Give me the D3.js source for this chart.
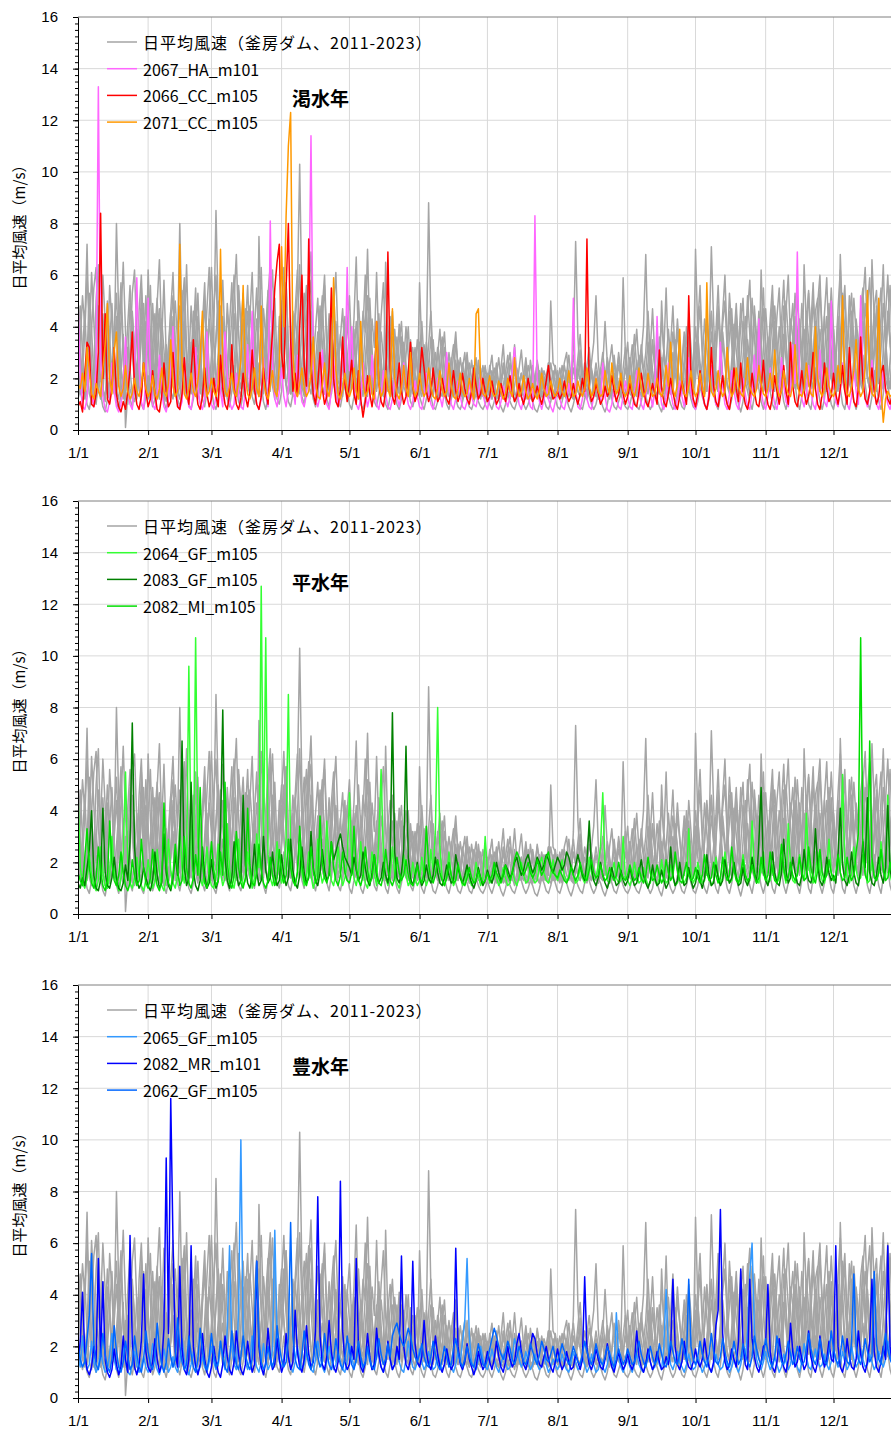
<!DOCTYPE html>
<html>
<head>
<meta charset="utf-8">
<script src="https://cdn.jsdelivr.net/npm/d3@7"></script>
<style>
  body { margin: 0; background: #fff; }
  svg { display: block; }
</style>
</head>
<body>
<svg id="chart" width="891" height="1432"></svg>
<script>
// ---- axis labels ----
const monthLabels = ["1/1","2/1","3/1","4/1","5/1","6/1","7/1","8/1","9/1","10/1","11/1","12/1"];
const monthStarts = [0,31,59,90,120,151,181,212,243,273,304,334];
const yTickValues = [0,2,4,6,8,10,12,14,16];
const yAxisTitle = "日平均風速（m/s）";

// ---- observed daily mean wind speed, Kamafusa Dam (one array per year, shared by all panels) ----
const observedName = "日平均風速（釜房ダム、2011-2023）";
const observedA = [
2.1,3.5,5.2,4.0,7.2,3.1,1.8,1.2,2.6,4.8,3.3,1.5,1.1,2.9,5.6,4.1,2.2,1.4,3.8,5.1,2.7,1.3,1.0,2.4,4.6,3.0,1.6,2.2,5.5,3.7,1.9,
1.4,2.8,4.9,3.2,1.6,1.2,3.4,5.8,2.9,1.5,2.2,4.4,3.0,1.3,1.8,3.9,5.3,2.4,1.2,2.7,4.6,3.1,1.7,1.4,3.6,5.0,2.3,1.5,
2.9,4.7,6.0,3.4,1.8,1.3,2.6,4.5,3.8,2.0,1.5,3.2,5.4,4.1,2.2,1.6,2.9,4.8,3.5,1.9,1.4,7.5,3.6,1.8,2.7,4.3,3.0,1.7,1.2,2.5,4.4,
3.1,5.0,3.6,1.9,1.4,2.8,4.6,6.2,3.3,1.7,1.3,2.5,4.9,5.8,3.0,1.6,2.2,3.9,5.2,2.6,1.5,1.9,3.7,4.8,2.4,1.4,2.0,3.4,4.4,2.1,
1.6,2.9,4.3,6.7,3.2,1.8,1.3,2.4,3.8,2.6,1.5,1.9,3.3,4.5,2.8,1.6,6.5,3.1,1.7,1.3,2.2,3.6,2.5,1.4,1.8,2.9,4.0,2.3,1.5,1.2,2.1,
3.4,2.2,1.6,3.0,8.8,4.2,2.0,1.5,1.8,2.9,3.6,2.1,1.4,1.7,2.6,3.3,2.0,1.3,1.6,2.4,3.0,1.8,1.2,1.5,2.2,2.8,1.7,1.3,1.9,2.5,
1.8,1.4,1.2,1.9,2.6,1.7,1.3,1.5,2.2,2.9,1.9,1.4,1.1,1.6,2.4,3.1,2.0,1.5,1.3,1.8,2.5,1.9,1.4,1.2,1.7,2.3,2.0,1.5,5.0,2.6,2.4,
1.6,1.3,1.8,2.5,2.0,1.5,1.4,3.2,7.3,3.6,2.1,1.6,1.3,1.9,2.7,2.2,1.7,1.4,1.5,2.3,3.0,2.1,1.6,1.2,1.8,2.6,2.0,1.5,1.3,2.4,3.2,
2.2,1.6,1.3,2.8,3.9,2.5,1.7,1.4,2.3,3.4,2.6,1.8,1.5,2.1,3.1,4.2,3.0,5.5,2.7,1.7,1.4,2.5,3.8,2.9,1.9,1.5,2.3,4.4,3.2,2.0,
2.4,3.6,4.8,2.9,1.8,1.5,3.3,7.1,4.2,2.3,1.7,2.6,4.1,5.0,3.1,1.9,1.5,2.8,4.5,3.4,2.0,1.6,3.0,5.2,3.7,2.1,1.7,2.9,4.6,3.3,1.9,
1.5,2.7,4.3,5.6,3.2,1.8,1.4,2.9,4.8,3.5,2.0,1.6,3.4,5.3,3.8,2.2,1.7,6.4,4.0,2.3,1.6,2.8,4.6,5.1,2.9,1.7,1.4,3.1,4.9,3.0,
1.8,2.6,4.4,3.2,1.9,1.5,3.0,5.2,4.1,2.4,1.7,2.9,4.7,5.5,3.3,2.0,1.6,6.6,4.3,2.5,1.8,3.1,4.9,3.6,2.2,1.6,2.8,4.5,3.4,2.1,1.9
];
const observedB = [
4.1,2.6,1.5,1.2,2.8,5.3,3.9,2.0,1.4,1.9,3.6,6.0,4.2,2.1,1.3,1.6,2.9,8.0,4.4,2.3,1.5,1.2,2.7,4.9,3.5,1.8,1.4,3.3,4.7,2.4,1.6,
3.8,5.6,2.9,1.6,1.3,2.5,4.3,3.1,1.7,1.2,2.2,3.9,5.0,3.4,8.0,3.6,1.9,1.4,2.6,4.8,3.3,1.8,1.3,2.4,4.1,5.7,2.8,1.6,
1.9,3.7,8.5,4.6,2.3,1.6,2.8,4.9,3.4,1.8,1.4,3.1,5.6,4.0,2.1,1.5,2.7,4.4,6.1,3.2,1.8,1.3,2.9,4.7,3.6,2.0,1.5,3.5,5.1,2.6,1.7,
2.8,4.5,3.3,1.8,1.4,2.6,4.2,5.4,10.3,4.8,2.4,1.6,3.0,4.6,3.4,1.9,1.5,2.8,4.3,5.6,3.1,1.8,1.4,2.7,4.1,3.0,1.7,2.5,3.9,2.6,
1.5,2.7,3.9,2.4,1.6,2.9,4.6,3.8,7.0,3.5,1.9,1.4,2.6,3.7,2.3,1.6,2.2,3.4,4.4,2.7,1.7,1.3,2.5,3.6,2.2,1.5,2.0,3.1,2.4,1.6,1.3,
5.7,3.1,1.8,1.4,2.3,3.6,2.4,1.6,1.3,2.1,2.9,3.8,2.2,1.5,1.2,1.9,2.7,2.0,1.4,1.3,2.2,3.0,1.9,1.4,1.6,2.4,1.8,1.3,1.5,2.1,
1.6,2.3,2.9,1.8,1.3,1.2,1.9,2.6,2.0,1.4,1.5,2.2,3.3,2.1,1.5,1.3,1.7,2.5,1.9,1.4,1.2,1.8,2.7,2.1,1.5,1.4,1.9,2.6,1.8,1.3,1.7,
2.3,1.7,1.3,1.5,2.2,2.9,1.9,1.4,1.6,2.4,3.1,2.0,1.5,1.3,1.8,2.6,3.4,5.2,2.7,1.6,1.4,1.9,2.8,2.2,1.5,1.3,2.0,3.0,2.3,1.7,1.5,
1.4,2.4,3.3,2.1,1.5,1.8,2.9,4.0,6.8,3.2,1.9,1.4,2.3,3.5,2.6,1.7,1.4,2.6,3.9,2.8,1.8,2.9,4.3,3.0,1.9,1.5,2.7,3.6,2.4,1.6,
7.0,3.8,2.1,1.6,2.9,4.4,3.2,1.9,1.5,2.7,4.8,3.5,2.0,1.6,3.1,5.3,3.9,2.2,1.7,2.6,4.1,5.1,2.9,1.8,1.4,2.8,4.5,3.4,2.0,1.6,3.2,
4.7,3.3,1.9,1.5,2.9,4.4,5.5,3.0,1.8,1.4,2.7,4.3,3.6,2.0,1.6,3.0,4.9,3.4,2.1,1.7,3.3,5.0,3.8,2.2,1.5,2.6,4.4,3.1,1.8,2.4,
3.9,2.5,1.7,6.8,4.1,2.3,1.6,2.9,4.6,3.4,2.0,1.5,3.2,5.3,3.6,2.1,1.8,3.0,4.7,5.4,3.2,1.9,1.6,2.8,4.4,3.5,2.0,1.7,3.3,4.8,2.6
];
const observedC = [
1.3,1.9,3.0,4.6,2.5,1.4,1.1,2.3,5.0,6.4,3.2,1.6,1.3,2.0,3.4,4.9,2.8,1.5,1.2,2.2,3.7,0.1,1.4,3.0,5.3,6.2,3.6,1.7,1.3,2.6,4.2,
3.2,1.6,1.2,2.1,3.9,4.7,2.6,1.4,1.1,2.4,4.1,5.2,2.8,1.5,1.2,2.3,3.6,6.4,3.0,1.6,1.3,2.5,4.4,3.2,1.7,1.2,2.6,4.3,
3.1,1.7,1.3,2.4,3.8,5.8,3.3,1.6,1.2,2.6,4.5,3.0,1.6,1.3,2.4,3.9,5.6,3.1,1.7,1.4,2.8,4.2,6.3,3.4,1.8,1.3,2.7,4.6,3.3,1.8,1.5,
2.6,4.0,5.7,3.1,1.6,1.3,2.5,3.8,6.4,3.6,1.9,1.5,2.8,4.4,3.2,1.7,1.3,2.6,4.7,6.0,3.3,1.8,1.4,2.9,4.2,2.7,1.6,1.3,2.7,4.0,
5.2,3.0,1.7,1.4,2.6,3.8,2.4,1.5,1.3,2.8,4.3,3.2,6.1,3.3,1.8,1.4,2.4,3.7,2.6,1.6,1.3,2.7,4.1,3.0,1.7,1.4,2.3,3.5,2.5,1.6,1.9,
3.0,4.2,2.6,1.5,1.3,2.4,3.5,2.3,1.5,1.2,2.1,3.2,2.4,1.6,1.3,1.9,3.4,2.5,1.6,1.2,1.8,2.6,2.0,1.4,1.2,1.7,2.4,1.8,1.3,1.5,
2.2,1.7,1.3,1.5,2.1,2.8,1.9,1.4,1.2,1.8,2.6,2.0,1.4,1.3,1.9,2.2,1.6,1.2,1.5,2.7,2.0,1.5,1.3,1.8,2.4,1.9,1.4,1.2,1.7,2.3,1.8,
1.4,1.2,1.9,2.6,3.0,2.0,1.5,1.3,1.7,2.3,1.9,1.4,1.6,2.5,3.2,2.1,1.5,1.3,1.8,2.4,2.0,1.5,1.7,2.6,3.3,2.2,1.6,1.4,2.1,5.9,2.9,
1.9,1.5,2.6,3.7,2.4,1.6,1.3,2.2,3.0,4.6,2.9,1.8,1.4,2.3,3.6,2.5,1.7,1.4,2.5,3.3,4.8,2.7,1.8,1.5,2.6,3.8,2.8,1.7,1.4,2.3,
3.4,2.2,1.6,2.7,4.3,3.1,1.9,1.5,2.6,3.8,5.6,3.3,1.9,1.5,2.4,3.6,4.7,2.9,1.8,1.4,2.7,4.2,3.3,2.0,1.6,3.0,4.8,3.6,2.1,6.2,3.5,
2.0,1.6,3.1,4.5,3.0,1.9,2.6,4.2,5.8,3.3,2.0,1.5,2.8,4.4,3.1,1.8,1.5,2.7,4.6,3.5,2.0,1.6,3.2,4.9,6.0,3.4,2.0,1.7,3.0,4.5,
3.2,1.9,1.6,2.9,4.5,5.6,3.1,1.8,1.5,2.7,4.3,3.4,2.0,1.6,3.0,4.8,5.9,3.3,1.9,1.5,2.8,4.4,6.4,3.5,2.0,1.6,3.1,4.6,3.2,1.8,2.5
];
const observedD = [
2.6,1.4,2.2,3.8,5.9,4.4,2.5,1.3,1.0,1.9,3.2,4.5,2.6,1.4,1.2,2.5,3.9,5.3,3.0,1.6,1.3,2.4,4.1,5.6,3.2,1.7,1.2,2.1,3.6,4.9,2.8,
1.5,1.2,2.4,3.8,5.1,2.7,1.4,1.1,2.0,3.3,4.6,2.5,1.3,1.9,3.5,5.4,2.9,1.5,1.2,2.3,3.7,5.5,3.0,1.6,1.3,2.5,3.9,2.4,
1.5,2.2,3.6,5.0,2.9,1.6,1.3,2.4,4.1,5.7,3.1,1.7,1.4,2.8,4.3,3.0,1.7,1.4,2.5,3.9,5.5,3.2,1.8,1.4,2.6,4.4,5.9,3.1,1.8,1.4,2.7,
4.2,3.0,1.8,1.4,2.9,4.6,3.3,1.9,2.6,4.0,5.3,3.0,1.7,1.4,2.5,3.9,5.1,2.9,1.7,1.4,2.6,4.3,3.1,1.8,1.4,2.4,3.7,2.6,1.6,1.3,
2.3,3.6,2.6,1.6,1.3,2.4,3.9,6.0,3.2,1.8,1.4,2.5,3.6,2.4,1.5,1.3,2.2,3.5,2.7,1.7,1.4,2.3,3.4,4.2,2.5,1.6,1.3,2.4,3.2,2.2,1.5,
1.3,2.1,3.3,2.3,1.5,1.3,2.2,3.0,2.2,1.5,1.3,2.0,2.8,2.1,1.5,1.3,1.9,2.7,2.0,1.5,1.3,1.8,2.6,2.0,1.4,1.3,1.9,2.4,1.8,1.4,
1.3,1.7,2.3,1.8,1.4,1.2,1.6,2.4,1.9,1.4,1.3,1.8,2.5,2.0,1.5,1.3,1.8,2.3,1.7,1.3,1.4,1.9,2.6,2.0,1.5,1.3,1.7,2.2,1.8,1.4,1.3,
1.7,2.4,1.9,1.4,1.2,1.6,2.3,2.9,2.0,1.5,1.3,1.7,2.2,1.8,1.4,1.3,1.9,2.6,2.0,1.5,1.3,1.8,2.4,1.9,1.4,1.6,2.2,2.8,2.0,1.5,1.4,
2.0,2.8,2.0,1.5,1.3,2.1,2.9,2.2,1.6,1.4,2.4,3.3,2.4,1.7,1.4,2.2,3.1,2.3,1.6,1.4,2.3,3.4,2.5,1.8,1.5,2.4,3.2,2.3,1.7,1.5,
2.5,3.6,2.6,1.8,1.4,2.3,3.5,4.6,3.0,1.9,1.5,2.6,3.8,2.8,1.8,1.5,2.7,4.1,3.1,2.0,1.6,2.8,4.4,3.2,2.0,1.6,2.5,3.7,2.7,1.8,1.5,
2.4,3.6,2.7,1.8,1.5,2.6,4.0,3.0,1.9,1.5,2.5,3.8,4.9,3.1,1.9,1.5,2.6,3.9,2.9,1.9,1.6,2.7,4.2,3.1,2.0,1.6,2.9,4.4,3.3,2.1,
1.6,2.7,4.1,3.0,2.0,1.6,2.9,4.3,5.3,3.1,2.0,1.6,2.8,4.2,3.1,2.0,1.6,3.0,4.5,3.3,2.1,1.7,3.1,4.4,6.0,3.6,2.1,1.7,2.9,4.3,3.0
];
const observedE = [
1.2,1.6,2.3,1.5,1.0,0.8,1.3,2.0,3.1,2.2,1.4,0.9,0.7,1.2,1.8,2.6,1.7,1.1,0.8,1.4,2.2,3.0,1.9,1.2,0.9,1.5,2.4,1.6,1.0,0.8,1.3,
2.1,1.4,0.9,1.2,1.9,2.8,1.8,1.1,0.8,1.3,2.3,3.2,2.0,1.2,0.9,1.4,2.2,1.5,1.0,0.8,1.2,2.0,2.9,1.9,1.2,0.9,1.5,2.4,
1.6,1.0,0.8,1.3,2.1,2.9,1.9,1.2,0.9,1.5,2.5,1.7,1.1,0.9,1.4,2.3,3.4,2.1,1.3,1.0,1.6,2.6,1.8,1.1,0.8,1.3,2.2,3.0,1.9,1.2,1.0,
1.5,2.4,1.7,1.1,0.9,1.4,2.3,3.1,2.0,1.3,1.0,1.6,2.7,1.8,1.2,0.9,1.4,2.2,2.9,1.9,1.2,0.9,1.5,2.5,1.7,1.1,0.9,1.4,2.1,1.5,
1.0,0.8,1.3,2.0,1.5,1.0,0.8,1.2,1.9,2.6,1.7,1.1,0.9,1.4,2.1,1.5,1.0,0.8,1.3,1.9,1.4,1.0,0.8,1.2,1.8,2.4,1.6,1.1,0.9,1.3,1.8,
1.3,1.0,0.8,1.2,1.7,1.3,0.9,0.8,1.1,1.6,2.1,1.4,1.0,0.8,1.2,1.6,1.2,0.9,0.8,1.1,1.5,1.2,0.9,0.8,1.1,1.4,1.1,0.9,0.8,1.0,
1.3,1.0,0.8,1.1,1.5,1.2,0.9,0.7,1.0,1.4,1.1,0.9,0.8,1.1,1.6,1.3,1.0,0.8,1.0,1.3,1.1,0.8,0.7,1.0,1.4,1.2,0.9,0.8,1.1,1.5,1.2,
0.9,0.8,1.1,1.5,1.2,0.9,0.7,1.0,1.4,1.1,0.9,0.8,1.2,1.6,1.3,1.0,0.8,1.0,1.4,1.2,0.9,0.7,1.0,1.5,1.2,0.9,0.8,1.1,1.4,1.1,0.9,
0.8,1.0,1.4,1.1,0.9,0.8,1.1,1.6,1.3,1.0,0.8,1.0,1.5,1.2,0.9,0.7,1.1,1.7,1.3,1.0,0.8,1.0,1.5,1.2,0.9,0.8,1.1,1.6,1.2,0.9,
0.8,1.1,1.7,1.3,1.0,0.8,1.2,1.9,1.4,1.0,0.8,1.3,2.1,1.5,1.0,0.8,1.2,1.8,1.4,1.0,0.7,1.1,1.9,1.5,1.1,0.8,1.3,2.2,1.6,1.1,0.8,
1.2,2.0,1.5,1.0,0.8,1.3,2.3,1.7,1.1,0.8,1.2,2.1,2.8,1.8,1.1,0.8,1.3,2.2,1.6,1.0,0.8,1.4,2.4,1.7,1.1,0.8,1.2,2.0,1.5,1.0,
0.8,1.3,2.2,1.6,1.0,0.8,1.4,2.5,1.8,1.1,0.8,1.2,2.1,2.9,1.8,1.1,0.8,1.3,2.3,1.7,1.1,0.8,1.4,2.6,1.8,1.1,0.8,1.2,2.0,1.5,1.0
];
const observedF = [
3.6,4.8,2.9,1.7,1.3,2.5,3.9,5.5,6.3,3.4,1.9,1.5,2.8,4.3,3.1,1.8,1.4,2.6,4.0,5.7,3.3,1.9,1.5,2.9,4.4,3.2,2.0,4.6,6.0,3.5,2.1,
6.2,3.7,2.1,1.6,2.9,4.5,3.2,1.9,1.5,2.8,4.6,6.1,3.4,2.0,1.6,2.7,4.2,3.0,1.8,1.5,2.9,4.8,3.5,2.0,1.6,3.0,4.7,6.3,
3.6,2.1,1.7,3.0,4.8,3.4,2.0,1.6,2.9,4.4,6.0,3.5,2.0,1.6,3.1,4.7,3.3,1.9,1.6,2.9,4.3,3.2,2.0,1.6,3.2,5.2,6.4,3.6,2.1,1.7,3.0,
4.6,6.3,3.7,2.1,1.7,3.0,4.5,3.3,2.0,1.6,2.9,4.4,5.9,3.5,2.0,1.7,3.1,4.8,3.4,2.0,1.6,2.9,4.3,5.5,3.2,1.9,1.6,2.8,4.1,3.0,
1.9,1.6,2.8,4.2,3.0,1.9,1.6,2.7,4.0,5.1,3.1,1.9,1.6,2.6,3.8,2.8,1.8,1.5,2.5,3.6,2.7,1.8,1.5,2.4,3.4,2.5,1.7,1.4,2.3,3.2,2.4,
1.7,1.5,2.3,3.4,2.5,1.7,1.4,2.2,3.2,2.3,1.6,1.4,2.1,3.0,2.2,1.6,1.4,2.0,2.8,2.1,1.5,1.3,1.9,2.7,2.0,1.5,1.3,1.8,2.5,1.9,
1.5,1.3,1.8,2.4,1.9,1.5,1.3,1.7,2.3,1.8,1.4,1.3,1.7,2.4,1.9,1.5,1.3,1.8,2.5,2.0,1.5,1.3,1.7,2.3,1.8,1.4,1.3,1.8,2.6,2.0,1.5,
1.3,1.8,2.5,2.0,1.5,1.3,1.7,2.4,1.9,1.5,1.3,1.8,2.6,2.1,1.6,1.3,1.7,2.3,1.8,1.4,1.3,1.9,2.7,2.1,1.6,1.4,1.8,2.5,2.0,1.5,1.3,
1.9,2.8,2.1,1.6,1.4,2.2,3.3,2.4,1.7,1.5,2.3,3.5,2.5,1.8,1.5,5.0,3.0,2.0,1.6,2.6,3.8,2.7,1.9,1.6,2.5,3.6,2.6,1.8,1.6,2.7,
4.0,2.9,2.0,1.7,2.8,4.2,3.0,2.0,1.7,2.9,4.4,3.1,2.1,1.7,3.0,4.6,3.3,2.2,1.8,3.1,4.9,3.5,2.3,1.8,3.2,5.1,3.6,2.3,1.9,3.3,4.7,
3.4,2.2,1.8,3.2,4.8,3.5,2.3,1.8,3.3,5.0,3.6,2.3,1.9,3.4,5.2,3.7,2.4,1.9,3.5,5.3,3.8,2.4,1.9,3.6,5.4,3.9,2.5,2.0,3.7,5.5,
3.9,2.5,2.0,3.6,5.3,3.8,2.4,1.9,3.5,5.1,3.7,2.4,1.9,3.4,4.9,3.6,2.3,1.9,3.3,4.8,3.5,2.3,1.8,3.2,4.6,3.4,2.2,1.8,3.1,4.5,3.3
];
const observedG = [
5.1,3.0,1.7,1.3,2.0,3.4,6.1,4.2,2.3,1.6,1.2,1.9,3.1,5.0,3.6,2.0,1.5,1.3,2.4,4.3,6.5,3.8,2.1,1.6,1.2,2.2,3.9,2.7,1.6,2.8,5.2,
3.3,1.9,1.4,2.6,4.9,6.6,3.5,2.0,1.5,1.3,2.5,4.0,2.8,1.7,2.3,4.6,5.9,3.2,1.9,1.4,2.1,3.7,5.3,3.0,1.8,1.4,2.7,4.5,
6.3,3.6,2.0,1.5,2.8,4.4,3.1,1.8,1.4,2.6,5.1,6.8,3.7,2.1,1.6,2.9,4.6,3.2,1.9,1.5,2.6,5.0,3.4,2.0,1.6,3.0,4.7,6.2,3.5,2.0,1.6,
2.9,4.3,5.7,3.2,1.9,1.5,2.7,4.0,3.0,1.8,1.4,2.8,5.2,6.9,3.8,2.1,1.6,2.9,4.5,3.3,1.9,1.5,2.6,4.8,6.1,3.4,2.0,1.6,2.9,4.2,
3.0,1.9,1.5,2.7,5.0,3.4,2.0,1.6,2.8,4.1,2.9,1.8,1.5,2.5,4.4,5.7,3.2,1.9,1.5,2.4,3.9,2.8,1.8,1.5,2.6,4.0,2.9,1.8,1.4,2.3,3.5,
2.6,1.7,1.4,2.2,3.3,4.6,2.8,1.7,1.4,2.1,3.2,2.4,1.6,1.3,2.0,2.9,3.8,2.3,1.6,1.3,1.9,2.8,2.1,1.5,1.3,1.8,2.7,2.0,1.4,1.2,
1.7,2.5,1.9,1.4,1.2,1.6,2.4,3.3,2.0,1.4,1.2,1.7,2.3,1.8,1.3,1.5,2.1,2.8,1.9,1.4,1.2,1.6,2.2,1.7,1.3,1.4,2.0,2.6,1.8,1.3,1.5,
2.1,1.6,1.3,1.5,2.3,1.8,1.4,1.2,1.9,2.8,3.7,2.2,1.5,1.3,1.6,2.4,1.9,1.4,1.2,1.7,2.5,4.2,2.6,1.6,1.3,1.5,2.2,1.8,1.4,1.6,2.6,
3.4,2.1,1.5,1.3,1.9,2.9,2.2,1.6,1.3,2.0,3.1,4.7,2.8,1.7,1.4,2.1,3.0,2.3,1.6,1.4,2.2,3.5,2.6,1.7,1.4,2.4,4.0,2.9,1.8,1.5,
2.6,4.1,5.6,3.2,1.9,1.5,2.5,3.8,2.8,1.8,1.5,2.9,4.5,6.0,3.4,2.0,1.6,2.7,4.0,2.9,1.8,1.5,2.8,4.6,5.8,3.3,2.0,1.6,2.6,3.9,5.5,
3.1,1.9,1.5,2.7,4.2,3.0,1.9,1.5,2.9,4.6,6.0,3.4,2.0,1.6,2.8,4.3,3.1,1.9,1.5,2.6,4.1,5.7,3.2,1.9,1.5,2.8,4.5,5.9,3.3,2.0,
1.6,2.9,4.7,6.2,3.5,2.0,1.6,2.8,4.4,3.2,1.9,1.6,3.0,5.0,6.3,3.6,2.1,1.7,2.9,4.5,3.3,2.0,1.6,2.7,4.2,5.6,3.2,1.9,1.6,3.0,4.4
];
const observedH = [
2.4,1.5,1.1,1.6,2.7,3.9,2.4,1.5,1.2,1.8,2.9,4.1,2.6,1.6,1.2,1.7,3.0,4.4,2.7,1.6,1.2,1.9,3.2,2.3,1.4,1.1,1.6,2.8,4.0,2.5,1.5,
1.2,1.8,3.1,4.5,2.8,1.7,1.3,1.9,3.3,2.4,1.5,1.2,2.0,3.6,4.8,2.9,1.7,1.3,2.1,3.4,2.5,1.6,1.2,2.2,3.8,5.0,3.0,1.8,
1.3,2.2,3.5,4.9,3.0,1.8,1.4,2.3,3.7,2.7,1.7,1.3,2.4,4.0,5.3,3.2,1.9,1.4,2.5,3.6,2.6,1.7,1.3,2.3,3.9,5.4,3.1,1.9,1.4,2.4,3.8,
5.0,3.0,1.8,1.4,2.5,3.9,2.8,1.7,1.4,2.6,4.3,5.6,3.2,1.9,1.5,2.6,3.8,2.7,1.7,1.4,2.7,4.5,3.1,1.9,1.5,2.5,3.6,4.7,2.8,1.7,
1.4,2.3,3.6,2.6,1.7,1.4,2.4,3.9,5.2,3.0,1.8,1.4,2.3,3.4,2.5,1.6,1.3,2.2,3.5,4.6,2.8,1.7,1.4,2.2,3.3,2.4,1.6,1.3,2.1,3.1,2.3,
1.6,1.3,2.0,3.0,2.2,1.5,1.3,1.9,2.9,3.9,2.4,1.6,1.3,1.9,2.8,2.1,1.5,1.3,1.8,2.6,2.0,1.5,1.2,1.8,2.5,1.9,1.4,1.2,1.7,2.4,
1.8,1.4,1.2,1.6,2.3,1.8,1.4,1.2,1.7,2.4,3.0,2.0,1.4,1.2,1.6,2.2,1.7,1.3,1.2,1.7,2.4,1.8,1.4,1.2,1.6,2.1,1.6,1.3,1.2,1.8,2.5,
1.8,1.4,1.2,1.7,2.2,1.7,1.3,1.2,1.6,2.1,2.7,1.9,1.4,1.2,1.6,2.3,1.8,1.4,1.2,1.7,2.4,1.8,1.4,1.3,1.9,2.9,2.0,1.5,1.3,1.8,2.4,
1.8,1.4,1.3,1.9,2.7,2.0,1.5,1.3,1.8,2.6,3.5,2.3,1.6,1.3,1.9,2.8,2.1,1.5,1.3,2.0,3.0,2.2,1.6,1.3,1.9,2.7,3.7,2.4,1.7,1.4,
2.0,3.1,2.3,1.6,1.4,2.1,3.3,4.5,2.8,1.8,1.5,2.2,3.4,2.5,1.7,1.4,2.3,3.6,4.9,3.0,1.9,1.5,2.4,3.5,2.6,1.7,1.4,2.4,3.8,2.7,1.8,
1.5,2.5,3.9,5.0,3.1,1.9,1.5,2.4,3.7,2.7,1.8,1.5,2.6,4.1,2.9,1.9,1.5,2.7,4.3,5.4,3.2,2.0,1.6,2.6,3.9,2.8,1.8,1.5,2.7,4.0,
2.9,1.9,1.5,2.6,4.1,5.2,3.1,2.0,1.6,2.7,3.9,2.8,1.8,1.5,2.6,4.2,3.0,1.9,1.6,2.8,4.4,5.5,3.2,2.0,1.6,2.7,4.0,2.9,1.9,1.6,2.6
];

// ---- dry-year model runs ----
const dryTitle = "渇水年";
const dryNames = ["2067_HA_m101","2066_CC_m105","2071_CC_m105"];
const dryHA2067 = [
5.0,2.1,0.9,0.8,1.2,3.0,1.4,0.9,2.5,13.3,2.8,1.3,0.8,0.7,1.1,2.6,1.5,0.9,0.7,1.0,1.8,3.6,1.6,1.0,0.8,2.3,5.9,2.4,1.1,0.8,2.0,
5.1,2.2,1.0,0.8,1.3,2.9,1.5,0.9,0.7,1.2,2.4,4.0,1.8,1.0,0.8,1.1,2.7,1.6,0.9,0.8,1.4,3.2,1.7,1.0,0.8,1.2,3.8,1.9,
1.0,0.8,1.3,2.5,1.5,0.9,3.8,2.1,1.1,0.8,1.0,2.2,1.4,0.9,0.8,1.5,3.3,1.6,4.6,1.8,1.0,0.8,1.2,2.8,1.4,0.9,8.1,2.6,1.2,0.9,1.5,
2.4,1.3,0.9,1.6,3.5,1.7,1.0,2.9,1.8,1.1,0.9,1.4,4.2,11.4,2.5,1.2,0.9,1.3,3.1,1.6,1.0,0.8,1.5,2.8,1.4,0.9,1.2,3.4,1.7,6.3,
2.3,4.0,1.8,1.0,0.8,1.2,2.6,1.5,0.9,1.3,2.9,1.6,1.0,0.8,1.4,2.3,1.4,0.9,0.8,1.2,2.0,1.3,0.9,1.5,2.6,1.5,1.0,0.8,1.1,1.9,1.3,
0.9,0.8,1.3,2.2,1.4,1.0,0.8,1.2,2.0,1.3,0.9,1.5,3.0,1.6,1.0,0.8,1.2,1.9,1.3,0.9,0.8,1.1,1.8,1.3,1.0,0.9,1.4,2.1,1.4,1.0,
0.8,1.2,1.8,1.3,0.9,0.8,1.1,1.7,1.2,0.9,1.3,2.3,3.2,1.6,1.0,0.8,1.2,1.8,1.3,0.9,0.8,8.3,2.0,1.1,0.8,1.2,1.7,1.2,0.9,0.7,1.1,
1.6,1.2,0.9,0.8,1.2,1.8,1.3,5.1,1.5,0.9,0.8,1.2,1.7,1.2,0.9,0.8,1.3,2.0,1.4,1.0,2.6,1.3,0.8,0.7,1.0,1.6,1.2,0.9,0.8,1.3,1.9,
1.3,0.9,0.8,1.4,2.3,1.5,1.0,0.8,1.3,2.1,1.4,0.9,1.5,4.4,1.8,1.0,0.8,1.3,2.6,1.5,1.0,0.8,1.2,1.9,1.3,0.9,1.6,2.8,1.5,1.0,
0.8,1.3,2.2,1.4,1.0,0.8,1.5,2.5,1.6,1.0,0.9,3.4,1.7,1.0,0.8,1.4,2.3,1.5,1.0,0.8,1.3,2.0,1.4,0.9,0.8,1.5,2.9,1.6,4.3,1.5,1.0,
0.8,1.3,2.4,1.5,1.0,0.8,1.4,2.8,1.7,1.1,0.9,1.6,3.3,1.8,6.9,2.2,1.2,0.9,1.4,2.5,1.5,1.0,0.8,1.4,3.1,1.7,1.1,0.9,1.6,5.0,
2.0,1.1,0.9,1.5,2.6,1.6,1.0,0.8,1.3,2.4,1.5,1.0,5.2,2.1,1.2,0.9,1.4,2.7,1.6,1.0,0.8,1.3,2.3,1.5,1.0,0.8,1.2,3.1,1.7,1.0,0.9
];
const dryCC2066 = [
0.9,1.1,0.7,2.2,3.4,3.2,1.0,0.9,1.4,3.0,8.4,2.0,4.5,1.2,1.0,1.6,3.2,1.4,0.9,0.7,1.1,0.8,1.5,2.3,3.8,1.7,1.0,0.8,1.3,2.6,1.5,
0.9,1.2,2.3,1.4,0.8,0.7,1.3,2.6,1.5,0.9,1.1,3.0,1.6,0.9,0.8,1.4,2.8,1.5,1.0,2.2,3.5,1.8,1.0,0.8,1.3,2.4,1.4,0.9,
1.2,2.0,1.3,0.9,2.9,1.6,1.0,0.8,1.4,3.3,1.7,1.0,0.8,1.2,2.2,1.3,0.9,1.5,3.1,1.6,1.0,0.8,1.3,2.4,1.5,1.0,2.5,3.8,5.5,6.5,7.2,
3.0,2.0,5.5,8.0,3.5,1.5,2.2,1.3,4.0,6.0,2.5,1.7,7.4,2.5,1.4,1.0,1.8,3.0,1.6,1.0,1.3,2.4,5.5,2.0,1.1,0.9,1.6,3.6,1.8,1.1,
1.8,2.7,1.4,1.0,2.3,1.2,0.5,1.1,2.1,1.4,0.9,1.6,4.2,1.8,1.1,0.9,1.5,6.9,2.4,1.3,1.0,1.7,2.6,1.5,1.0,1.3,2.2,3.4,1.7,1.1,1.4,
2.0,3.2,2.4,1.5,1.1,1.4,2.4,1.6,1.1,1.3,2.0,1.5,1.2,1.0,1.6,2.3,1.5,1.1,1.4,2.2,1.6,1.2,1.0,1.5,2.4,1.7,1.2,1.4,2.0,1.5,
1.1,1.3,1.9,1.4,1.0,1.2,1.8,1.4,1.1,1.6,2.1,1.5,1.1,1.3,1.8,1.3,1.0,1.4,2.0,1.5,1.1,1.3,1.7,1.3,1.0,1.4,1.9,2.5,1.6,1.2,1.3,
1.5,1.2,1.4,1.9,1.4,1.1,1.3,1.8,1.3,1.0,1.4,2.0,1.5,7.4,1.6,1.1,1.3,1.8,1.4,1.0,1.2,1.7,1.3,1.5,2.1,1.5,1.1,1.4,1.9,1.4,1.0,
1.3,1.8,1.4,1.0,0.9,1.5,2.2,1.6,1.1,0.9,1.3,1.8,1.4,1.0,3.1,1.6,1.1,0.9,1.4,2.0,1.5,1.0,0.8,1.3,1.9,1.4,1.0,5.2,2.0,1.2,
0.9,1.4,2.3,1.5,1.0,0.8,1.3,3.2,1.7,1.1,0.9,1.5,2.1,1.4,1.0,0.8,1.4,2.4,1.6,1.1,2.6,1.5,1.0,0.8,1.3,2.2,1.5,1.0,0.9,1.6,2.7,
1.5,1.0,0.8,1.3,2.1,1.5,1.0,1.6,2.5,1.5,1.0,3.4,1.7,1.1,0.9,1.5,2.3,1.5,1.0,1.3,1.9,3.0,1.6,1.0,0.8,1.4,2.6,1.6,1.1,1.3,
2.2,1.4,1.0,1.6,2.5,1.5,1.0,3.2,1.8,1.1,0.9,1.6,3.6,1.9,1.2,1.0,1.5,2.4,1.5,1.0,1.3,2.2,2.5,1.6,1.2,1.0,1.4,2.0,1.4,1.1,1.2
];
const dryCC2071 = [
1.8,1.6,2.2,1.5,3.2,2.3,1.4,1.2,1.8,1.5,1.3,2.4,3.3,4.9,2.0,1.4,3.1,3.8,1.7,1.3,1.6,2.5,1.5,1.2,1.4,2.0,1.5,1.3,1.7,2.6,1.6,
1.3,1.5,2.1,1.4,1.2,1.6,2.4,1.5,1.3,1.8,3.5,1.7,1.3,1.5,7.2,2.6,1.4,1.2,1.6,2.2,1.5,1.3,1.9,2.8,4.6,1.8,1.3,1.5,
2.0,1.5,1.3,1.8,7.0,2.4,1.5,1.3,1.7,2.2,1.5,1.3,1.9,2.7,5.6,2.1,1.4,1.2,1.6,2.4,1.6,1.3,4.8,2.0,1.4,1.2,1.7,2.3,1.5,1.3,2.5,
7.1,4.0,8.3,11.0,12.3,3.0,1.5,1.3,1.8,2.4,1.6,1.3,1.5,2.2,3.6,1.8,1.3,1.2,1.7,2.6,1.6,1.3,2.0,5.9,2.3,1.4,1.2,1.6,2.2,1.5,
1.3,1.6,2.4,1.5,1.2,4.2,1.9,1.3,1.5,2.1,1.4,1.2,4.2,1.8,1.3,1.5,2.3,1.6,1.3,4.7,2.0,1.4,1.2,1.6,2.5,1.6,1.3,3.0,1.7,1.3,1.5,
2.2,1.6,1.3,1.5,2.4,1.7,1.3,1.2,1.6,2.3,1.6,1.3,1.5,2.6,1.7,1.3,1.2,1.6,2.2,1.5,1.3,1.4,2.0,1.5,1.2,4.5,4.7,2.0,1.4,1.3,
1.6,2.1,1.5,1.3,1.4,1.9,1.5,1.2,1.4,2.0,1.5,1.3,2.8,1.7,1.3,1.5,2.1,1.5,1.2,1.4,1.8,1.4,1.2,1.5,2.2,1.6,1.3,1.4,1.9,1.5,1.3,
1.5,2.0,1.5,1.3,1.6,2.3,1.6,1.3,1.4,1.9,1.5,1.3,1.6,2.4,1.7,1.3,1.5,2.0,1.5,1.3,1.4,2.3,1.7,1.4,2.6,1.8,1.4,1.6,2.2,1.5,1.3,
1.5,2.1,1.5,1.3,1.7,2.4,1.6,1.3,1.5,2.2,1.6,1.3,1.4,2.0,1.5,1.3,1.6,2.5,1.7,3.4,1.6,1.3,1.8,3.9,1.8,1.4,1.3,1.7,2.3,1.6,
1.3,1.5,2.2,1.6,1.3,5.7,2.2,1.5,1.3,1.6,2.3,1.6,1.3,1.5,3.2,1.7,1.3,1.5,2.4,1.7,1.4,1.3,1.8,2.8,1.7,1.4,1.3,1.6,2.5,1.8,1.4,
1.3,1.6,2.2,1.6,3.1,1.7,1.3,1.5,2.3,1.7,1.4,1.3,1.8,3.3,1.8,1.4,1.3,1.6,2.6,1.8,1.4,1.3,4.0,2.0,1.5,1.3,1.6,2.4,1.7,1.4,
1.3,1.6,2.5,1.8,5.2,2.0,1.4,1.3,1.7,2.3,3.5,1.6,1.3,1.5,2.4,5.4,2.1,1.4,1.3,1.8,5.1,1.6,0.3,1.2,1.5,1.3,1.4,1.8,1.5,1.3,1.4
];

// ---- normal-year model runs ----
const normalTitle = "平水年";
const normalNames = ["2064_GF_m105","2083_GF_m105","2082_MI_m105"];
const normalGF2064 = [
4.7,1.8,1.2,1.0,1.4,2.3,1.5,1.1,0.9,1.3,2.6,1.6,1.1,1.0,1.5,3.0,1.7,1.2,0.9,1.4,2.4,5.5,2.0,1.2,1.0,1.4,2.2,1.5,1.1,0.9,1.3,
2.1,1.4,1.0,1.3,2.5,1.6,1.1,0.9,1.4,2.9,1.7,1.2,1.0,1.5,3.4,1.8,1.2,1.9,9.6,2.4,1.3,10.7,2.8,1.4,1.1,1.6,2.6,1.5,
1.1,1.0,1.5,2.7,1.6,1.1,1.4,3.5,1.8,1.2,1.0,1.6,2.9,1.7,1.1,1.3,2.4,1.5,1.0,1.4,3.1,1.8,12.7,2.6,10.7,2.3,1.4,1.1,1.6,2.8,1.7,
1.2,1.5,3.0,8.5,2.4,1.4,1.1,1.6,2.7,1.6,1.1,1.4,2.4,1.5,1.0,1.3,2.9,1.7,1.2,1.5,3.6,2.0,1.3,1.1,1.6,2.6,1.6,1.1,1.4,2.0,
4.7,2.2,1.4,1.1,1.6,2.8,1.7,1.2,1.0,1.5,2.4,1.6,1.1,3.0,5.6,2.3,1.4,1.1,1.5,2.6,1.6,1.2,1.0,1.4,2.3,1.5,1.1,1.3,2.0,1.4,1.1,
1.3,2.2,1.5,1.1,1.4,2.5,1.6,3.2,8.0,2.6,1.4,1.1,1.5,2.4,1.5,1.1,1.3,2.0,1.4,1.1,1.2,1.8,1.4,1.1,1.3,2.0,1.5,1.1,1.4,3.0,
1.7,1.2,1.3,1.9,1.4,1.1,1.3,1.8,1.4,1.1,1.2,1.7,1.3,1.1,1.4,2.0,1.5,1.2,1.3,1.8,1.4,1.2,1.3,1.9,2.2,1.6,1.3,1.2,1.5,2.1,1.5,
1.3,1.6,2.1,1.5,1.3,1.4,1.9,1.5,1.2,1.3,1.8,1.4,1.2,1.5,2.2,1.6,1.3,1.4,1.9,2.6,4.7,1.9,1.3,1.2,1.6,2.0,1.4,1.2,1.3,3.0,1.4,
1.3,1.1,1.4,2.0,1.5,1.2,1.3,1.8,1.4,1.1,1.2,1.7,1.3,1.1,1.4,2.1,1.5,1.2,1.3,1.9,1.4,1.1,1.2,1.8,1.4,1.2,1.4,3.3,1.6,1.2,
1.4,2.0,1.5,1.2,1.3,1.9,1.4,1.1,1.3,2.2,1.5,1.2,1.4,2.4,1.6,1.2,1.3,2.0,1.5,1.2,1.4,2.3,1.6,1.2,1.3,3.6,1.8,1.3,1.2,1.7,2.4,
1.5,1.2,1.3,1.9,1.4,1.2,1.4,2.2,1.6,1.2,3.5,1.8,1.3,1.2,1.6,2.3,1.6,1.3,3.9,1.9,1.4,1.2,1.5,2.4,1.7,1.3,1.2,1.8,2.9,1.6,
1.3,1.5,2.3,1.7,5.4,2.0,1.4,1.2,1.6,2.6,1.7,1.3,1.4,2.3,1.6,1.2,1.3,2.1,1.5,1.3,1.6,2.8,1.8,1.3,4.6,1.5,1.2,1.4,2.0,1.5,1.3
];
const normalGF2083 = [
1.2,1.0,1.4,1.1,1.8,2.5,4.0,1.5,1.0,0.9,1.3,4.1,1.6,1.1,1.0,1.4,2.2,1.4,1.0,0.9,1.2,1.9,1.3,2.8,7.4,2.6,1.3,1.0,1.2,1.8,1.4,
1.1,0.9,1.3,2.4,1.5,1.0,1.2,3.1,1.6,1.1,0.9,1.4,2.3,1.5,2.9,6.7,1.8,1.1,1.4,5.1,1.7,1.1,0.9,1.3,2.6,1.5,1.0,1.2,
2.1,1.4,1.0,1.3,3.3,7.9,2.2,1.3,1.0,1.4,2.8,1.6,1.1,1.3,4.6,1.9,1.2,1.0,1.5,2.7,1.6,1.1,1.3,3.0,1.7,1.2,1.4,2.4,1.5,1.1,1.3,
2.3,1.5,1.1,1.4,2.9,1.7,1.2,1.0,1.5,2.6,1.6,1.2,1.4,3.2,1.8,1.3,1.1,1.6,2.5,1.7,1.3,1.5,2.8,2.1,2.4,2.8,3.1,2.6,2.2,2.0,
1.8,1.5,2.2,1.7,1.3,1.5,2.4,1.8,1.3,1.1,1.6,2.3,1.5,1.2,1.4,2.0,1.5,1.2,2.1,7.8,2.4,1.4,1.2,1.6,2.5,6.5,2.2,1.4,1.1,1.5,2.0,
1.4,1.1,1.3,1.9,1.4,1.2,1.5,2.2,1.6,1.2,1.1,1.4,1.9,1.5,1.2,1.3,2.3,1.8,1.4,1.2,1.5,1.9,1.5,1.2,1.0,1.3,1.8,1.4,1.1,1.3,
1.7,1.4,1.2,1.5,2.0,1.6,1.3,1.5,1.9,1.7,1.4,1.6,2.0,2.2,1.8,1.5,1.7,2.1,2.3,1.9,1.6,1.8,2.2,2.0,1.7,1.9,2.3,2.1,1.8,1.6,1.9,
2.2,2.0,1.7,1.9,2.4,2.2,1.8,1.6,1.9,2.3,1.9,1.5,1.3,2.0,3.6,1.8,1.3,1.1,1.4,2.0,1.5,1.2,1.0,1.3,1.8,1.4,1.1,1.2,1.7,1.3,1.1,
1.3,1.8,1.4,1.1,1.2,1.6,2.1,1.5,1.2,1.0,1.3,1.9,1.4,1.1,1.2,1.7,1.3,1.0,1.2,2.6,1.5,1.1,1.3,2.0,1.4,1.1,1.2,1.8,1.3,1.0,
1.2,1.7,1.3,1.0,1.4,2.3,1.5,1.1,1.2,1.9,1.4,1.1,1.3,2.1,1.5,1.2,1.4,2.0,1.4,1.1,1.2,1.8,1.3,1.1,1.4,2.2,1.6,1.2,2.8,4.9,1.9,
1.3,1.1,1.5,2.4,1.6,1.2,1.1,1.6,2.9,1.7,1.2,1.4,2.2,1.6,1.2,1.1,1.5,2.5,1.7,1.3,1.2,1.6,3.3,1.9,1.3,1.1,1.4,2.2,1.6,1.3,
1.5,1.2,2.3,4.1,1.9,1.3,1.1,1.5,2.4,1.6,1.2,1.1,1.7,2.8,1.8,4.5,1.6,1.2,1.1,1.5,2.2,1.5,1.2,1.8,4.2,1.7,1.3,1.2,1.5,1.9,1.4
];
const normalMI2082 = [
1.6,1.3,1.1,2.2,3.3,1.8,1.2,1.0,1.4,2.6,1.7,1.1,0.9,1.3,3.6,2.0,1.3,1.1,1.5,2.4,1.6,1.1,0.9,1.2,2.1,1.5,1.1,1.3,2.9,1.8,1.2,
1.0,1.4,2.5,1.6,1.1,0.9,1.3,4.3,1.9,1.2,1.0,1.5,2.7,1.7,1.1,1.3,3.0,1.8,1.2,1.0,1.4,2.3,1.5,4.9,2.0,1.2,1.0,1.6,
2.8,1.7,1.1,1.3,2.4,1.5,5.1,2.0,1.2,1.0,1.5,3.2,1.8,1.2,1.0,1.4,4.1,1.9,1.2,1.1,1.6,2.7,1.7,1.2,1.0,1.3,2.2,1.5,1.1,1.4,2.5,
1.6,1.2,1.5,2.9,1.8,1.3,1.1,1.6,3.4,1.9,1.3,1.1,1.5,2.6,1.7,1.2,1.4,3.8,2.0,1.4,1.2,1.6,2.8,1.8,1.3,1.1,1.5,2.4,1.6,1.3,
1.2,1.6,3.4,1.8,1.3,1.1,1.5,2.6,1.7,1.2,1.4,2.3,1.6,1.2,1.1,1.5,2.5,1.7,1.3,1.1,1.4,2.2,1.6,1.3,1.5,2.1,1.5,1.2,1.1,1.4,1.9,
1.4,1.2,1.6,3.4,1.9,1.4,1.2,1.5,2.1,1.6,1.3,1.1,1.4,2.0,1.5,1.2,1.3,1.9,1.5,1.2,1.1,1.4,1.8,1.4,1.2,1.3,1.7,1.4,1.2,1.3,
1.6,1.3,1.5,2.0,1.6,1.4,1.2,1.5,1.9,1.5,1.3,1.6,2.1,2.4,2.2,1.8,1.5,1.7,2.0,1.6,1.4,1.6,2.1,1.8,1.5,1.7,2.2,2.4,1.9,1.6,1.5,
1.4,1.7,1.5,1.3,1.2,1.4,1.8,1.5,1.3,1.5,2.0,1.6,1.4,1.3,1.7,2.1,1.6,1.4,1.5,1.9,1.5,1.3,1.4,1.8,1.5,1.3,1.5,2.0,1.6,1.4,1.3,
1.5,1.9,1.5,1.3,1.4,1.8,1.4,1.2,1.5,2.2,1.6,1.3,1.4,1.9,1.5,1.2,1.4,2.1,1.6,1.3,1.5,2.4,1.7,1.3,1.2,1.6,2.0,1.5,1.3,1.4,
1.8,1.4,1.2,1.5,2.3,1.6,1.3,1.4,2.0,1.5,1.2,1.4,2.2,1.6,1.3,1.5,2.6,1.7,1.3,1.2,1.6,2.1,1.5,1.3,1.4,1.9,1.5,1.2,1.4,2.2,1.6,
1.3,1.5,2.4,1.7,1.3,1.2,1.6,2.7,1.8,1.3,1.4,2.0,1.5,1.3,1.5,2.2,1.6,1.3,1.4,2.6,1.8,1.4,1.2,1.7,2.5,1.6,1.3,1.5,2.1,1.6,
1.3,1.5,2.3,1.6,1.3,1.4,2.2,1.6,1.3,1.5,2.4,3.1,10.7,2.6,1.5,1.3,6.7,2.2,1.4,1.3,1.6,2.5,1.7,1.3,1.4,2.0,1.5,1.3,1.4,1.8,1.5
];

// ---- wet-year model runs ----
const wetTitle = "豊水年";
const wetNames = ["2065_GF_m105","2082_MR_m101","2062_GF_m105"];
const wetGF2065 = [
1.6,1.2,2.4,1.5,1.1,1.3,2.2,1.4,1.0,1.2,1.9,1.3,1.0,1.1,1.7,2.5,1.5,1.1,1.0,1.4,2.0,1.4,1.0,0.9,1.3,1.8,1.3,1.0,1.2,1.6,1.2,
1.0,1.3,2.1,1.5,1.1,0.9,1.3,1.9,1.4,1.0,1.2,1.6,1.2,1.0,1.4,2.3,1.5,1.1,0.9,1.3,1.8,1.3,1.0,1.2,1.6,1.2,1.0,1.4,
2.0,1.4,1.1,1.3,2.2,1.5,1.1,2.7,5.9,2.0,1.3,1.1,3.4,10.0,2.6,1.4,1.1,1.5,2.4,1.6,1.2,1.0,1.4,2.1,1.5,1.1,1.3,1.9,6.5,2.3,1.4,
1.2,1.5,2.3,1.6,1.2,1.0,1.4,2.0,1.5,1.1,1.3,1.8,1.4,1.1,1.0,1.5,2.2,1.6,1.2,1.0,1.4,2.0,1.5,1.1,1.3,1.8,1.4,1.1,1.0,1.5,
2.1,1.6,1.2,1.4,2.0,1.5,1.1,1.3,1.9,1.4,1.1,1.3,2.3,1.6,1.2,1.0,1.4,2.0,1.5,1.1,1.3,1.9,1.4,1.1,1.0,1.5,2.2,1.6,1.2,1.1,1.4,
1.9,1.4,1.1,1.3,1.8,1.4,1.1,1.2,1.7,1.3,1.1,1.3,1.9,1.5,1.2,1.0,1.3,1.8,1.4,2.2,3.0,5.4,2.4,1.4,1.2,1.1,1.5,2.0,1.5,1.2,
1.1,1.4,1.9,1.5,1.2,1.0,1.3,1.7,1.4,1.1,1.2,1.6,2.3,2.0,1.5,1.2,1.4,1.8,1.4,1.1,1.3,1.7,1.3,1.1,1.2,1.6,1.3,1.0,1.2,1.5,1.3,
1.1,1.3,1.7,1.3,1.1,1.0,1.4,1.8,1.4,1.1,1.2,1.6,1.3,1.0,1.2,1.7,1.3,1.0,1.1,1.5,1.2,1.0,1.3,1.8,1.4,1.1,3.3,1.6,1.2,1.0,1.3,
1.5,1.2,1.0,1.3,1.7,1.3,1.1,1.0,1.4,1.8,1.4,1.1,1.2,1.6,1.3,1.1,2.0,4.2,1.9,1.3,1.1,1.4,1.8,1.4,1.2,1.0,1.3,1.7,1.3,1.1,
1.2,1.6,1.3,1.0,1.2,1.5,1.2,1.0,1.3,1.7,1.3,1.1,1.2,1.6,1.3,1.0,1.2,1.5,1.2,1.0,1.3,1.8,1.4,2.6,4.8,6.0,2.7,1.5,1.2,1.1,1.4,
1.8,1.4,1.1,1.3,1.6,1.3,1.0,1.2,1.7,1.4,1.1,1.3,1.9,1.5,1.2,1.0,1.4,2.1,1.6,1.2,1.1,1.5,1.9,1.4,1.2,1.3,1.7,1.3,1.1,1.4,
1.9,1.5,1.2,1.3,1.8,1.4,1.1,1.3,2.0,1.5,1.2,1.4,1.9,1.5,1.2,1.3,1.7,1.4,1.1,1.3,1.8,1.4,1.2,1.5,2.2,1.6,1.3,1.2,1.5,1.3,1.2
];
const wetMR2082 = [
1.3,2.2,4.1,1.8,1.1,0.9,1.2,2.0,1.4,5.4,1.6,4.5,1.5,1.0,0.8,1.1,1.9,1.3,0.9,1.2,2.4,1.5,1.0,6.3,2.1,1.2,0.9,1.3,2.2,4.8,1.8,
1.2,1.0,1.4,2.3,1.5,1.0,1.3,2.7,9.3,2.5,11.6,6.0,1.8,1.2,5.1,1.9,1.1,0.9,1.5,5.9,2.0,1.2,0.9,1.3,2.5,1.5,1.0,0.8,
1.2,2.0,1.4,1.0,0.8,1.3,2.4,1.6,1.1,0.9,1.4,2.6,1.7,1.1,0.9,1.3,2.2,1.5,1.0,1.3,5.3,2.0,1.2,0.9,1.4,2.7,1.6,1.1,1.3,2.3,1.5,
1.0,1.3,2.5,1.6,1.1,1.4,3.4,1.8,1.2,1.0,1.5,2.8,1.7,1.2,1.4,2.6,7.8,2.4,1.3,1.1,1.6,3.0,1.8,1.2,1.0,1.4,8.4,2.6,1.4,1.1,
1.3,2.0,1.5,5.4,1.9,1.2,1.0,1.4,2.5,1.6,1.1,1.3,2.7,1.7,1.2,1.0,1.4,2.2,1.5,1.1,1.3,2.0,1.5,5.5,2.0,1.3,1.1,1.5,5.3,2.1,1.4,
1.2,1.6,3.0,1.8,1.3,1.1,1.5,2.4,1.7,1.2,1.0,1.3,1.9,1.4,1.1,1.3,5.8,2.0,1.3,1.1,1.4,2.1,1.5,1.2,0.9,1.2,1.8,1.4,1.1,1.3,
1.8,1.4,1.1,1.5,2.2,1.6,1.2,1.0,1.4,2.0,1.5,1.2,1.4,2.1,2.5,1.8,1.3,1.1,1.5,2.0,2.5,2.3,1.7,1.3,1.2,1.6,2.0,1.5,1.2,1.0,1.4,
1.9,1.4,1.1,1.3,1.8,1.4,1.1,1.2,1.7,1.4,1.1,1.5,4.7,1.9,1.3,1.1,1.4,1.9,1.5,1.2,1.1,1.5,2.1,1.6,1.2,1.0,1.4,1.8,1.4,1.1,1.3,
1.7,1.3,1.1,1.4,2.6,1.6,1.2,1.0,1.3,1.9,1.4,1.1,1.3,1.8,1.4,1.1,1.2,1.6,1.3,1.9,4.6,2.0,1.3,1.1,1.4,2.2,1.5,1.2,1.1,1.4,
1.9,1.4,1.2,1.5,2.3,1.6,1.2,1.0,1.4,2.8,3.4,7.3,2.5,1.4,1.1,1.3,1.9,1.5,1.2,2.2,5.0,2.1,1.3,1.1,4.6,2.3,1.6,1.2,1.0,1.4,2.0,
2.1,4.4,1.8,1.2,1.0,1.4,2.3,1.6,1.2,1.0,1.5,2.9,1.8,1.2,1.4,2.0,1.5,1.1,1.3,2.6,1.6,1.2,1.0,1.4,2.4,1.6,1.2,1.5,2.2,1.5,
1.4,5.9,2.0,1.2,1.0,1.4,2.3,1.6,1.2,1.1,1.5,2.6,1.7,1.2,1.0,1.4,2.2,4.6,1.8,1.2,1.0,1.4,2.0,1.5,5.9,2.0,1.3,1.1,1.4,1.8,1.4
];
const wetGF2062 = [
2.0,1.5,1.2,1.4,2.3,3.2,5.6,2.1,1.3,1.1,1.6,2.5,1.7,1.2,1.0,1.5,2.8,1.8,1.2,1.0,1.4,2.2,1.6,1.1,1.3,2.4,1.7,1.2,1.0,1.5,2.6,
1.8,1.3,1.1,1.6,2.9,1.9,1.3,1.0,1.4,2.3,1.6,1.2,1.5,3.1,2.0,1.4,1.1,1.3,2.4,1.7,1.2,1.0,1.5,2.7,1.8,1.3,1.1,1.6,
2.5,1.7,1.2,1.4,2.2,1.6,1.2,1.0,1.5,2.6,1.8,1.3,1.1,1.6,2.4,1.7,1.3,1.1,1.5,2.9,5.3,2.2,1.4,1.1,1.3,2.0,1.5,1.2,1.6,2.8,2.0,
1.5,1.2,1.4,2.3,6.8,2.4,1.5,1.2,1.1,1.7,2.6,1.8,1.3,1.1,1.5,2.2,1.6,1.2,1.4,2.5,1.8,1.3,1.1,1.5,2.3,1.7,1.3,1.1,1.6,2.4,
1.8,1.3,1.1,1.5,2.2,1.6,1.2,1.4,2.0,1.5,1.2,1.1,1.6,2.3,1.7,1.3,1.5,2.1,1.6,2.4,2.7,2.9,2.5,2.2,2.0,2.3,2.7,2.4,1.9,1.6,1.4,
1.7,2.1,1.6,1.3,1.2,1.6,2.2,1.7,1.3,1.1,1.5,2.0,1.6,1.2,1.3,1.9,2.3,1.8,1.4,1.2,1.5,2.0,1.6,1.3,1.2,1.6,2.1,1.7,1.3,1.2,
1.5,1.9,2.3,2.7,2.4,2.0,1.7,1.5,1.8,2.2,1.9,1.5,1.3,1.6,2.0,1.7,1.4,1.3,1.6,2.1,1.8,1.5,1.3,1.7,2.2,1.9,1.5,1.4,1.7,2.0,1.6,
1.4,1.7,2.1,1.8,1.5,1.3,1.6,2.0,1.7,1.4,1.3,1.7,2.2,1.8,1.5,1.3,1.6,2.1,1.7,1.4,1.3,1.6,2.0,1.7,1.4,1.2,1.5,1.9,1.6,1.3,1.5,
1.9,1.6,1.3,1.4,1.8,2.2,1.7,1.4,1.2,1.6,2.0,1.6,1.3,1.5,2.1,1.7,1.3,1.2,1.6,2.2,1.8,1.4,1.3,1.7,2.3,1.8,1.4,4.6,2.0,1.5,
1.3,1.6,2.2,1.7,1.4,1.2,1.7,2.5,1.8,1.4,1.3,1.6,2.3,1.8,1.4,1.2,1.6,2.2,1.7,1.3,1.5,2.1,1.7,1.4,1.2,1.6,2.4,1.9,1.5,1.3,1.7,
2.3,1.8,1.4,1.2,1.6,2.4,1.8,1.4,1.3,1.7,2.2,1.7,1.3,1.5,2.0,1.6,1.3,1.4,1.9,2.5,1.9,1.5,1.3,1.7,2.3,1.8,1.4,1.3,1.8,2.6,
1.9,1.5,1.3,1.7,2.4,1.8,1.4,1.3,2.2,4.8,2.0,1.5,1.3,1.7,2.3,1.8,1.4,1.6,4.9,2.1,1.5,1.3,1.8,2.5,1.9,1.5,1.3,1.7,2.2,1.6,1.4
];

// ---- panel definitions ----
const observedSeries = [observedA, observedB, observedC, observedD, observedE, observedF, observedG, observedH];
const panels = [
  { title: dryTitle,    names: dryNames,    series: [dryHA2067, dryCC2066, dryCC2071],          colors: ["#ff66ff", "#ff0000", "#ff9900"] },
  { title: normalTitle, names: normalNames, series: [normalGF2064, normalGF2083, normalMI2082], colors: ["#33ff33", "#008000", "#00dd00"] },
  { title: wetTitle,    names: wetNames,    series: [wetGF2065, wetMR2082, wetGF2062],          colors: ["#3399ff", "#0000ff", "#0066ff"] }
];

// ---- layout ----
const W = 891;
const plotLeft = 78;
const dayWidth = 2.262;
const panelStep = 484;
const panelTop = 17, panelBottom = 430;
const grayColor = "#a5a5a5";
const latinFont = "'Liberation Sans', Arial, sans-serif";
const cjkFont = "'Noto Sans CJK JP', 'Noto Sans', sans-serif";

const svg = d3.select("#chart");
const x = d3.scaleLinear().domain([0, 365]).range([plotLeft, plotLeft + 365 * dayWidth]);

panels.forEach((p, k) => {
  const top = panelTop + panelStep * k;
  const bottom = panelBottom + panelStep * k;
  const y = d3.scaleLinear().domain([0, 16]).range([bottom, top]);
  const g = svg.append("g");

  // gridlines
  g.append("g").selectAll("line")
    .data(yTickValues.filter(v => v > 0 && v < 16))
    .join("line")
    .attr("x1", plotLeft).attr("x2", W)
    .attr("y1", d => y(d)).attr("y2", d => y(d))
    .attr("stroke", "#d9d9d9").attr("stroke-width", 1);
  g.append("g").selectAll("line")
    .data(monthStarts.slice(1))
    .join("line")
    .attr("x1", d => x(d)).attr("x2", d => x(d))
    .attr("y1", top).attr("y2", bottom)
    .attr("stroke", "#d9d9d9").attr("stroke-width", 1);
  g.append("line")
    .attr("x1", plotLeft).attr("x2", W)
    .attr("y1", y(16)).attr("y2", y(16))
    .attr("stroke", "#7f7f7f").attr("stroke-width", 1);

  // clip
  const clipId = "clip" + k;
  svg.append("clipPath").attr("id", clipId)
    .append("rect").attr("x", plotLeft).attr("y", top - 2)
    .attr("width", W - plotLeft).attr("height", bottom - top + 2);

  const line = d3.line().x((d, i) => x(i)).y(d => y(d));
  const lines = g.append("g").attr("clip-path", `url(#${clipId})`)
    .attr("fill", "none").attr("stroke-linejoin", "round");

  lines.selectAll(".obs").data(observedSeries).join("path")
    .attr("class", "obs")
    .attr("d", line)
    .attr("stroke", grayColor).attr("stroke-width", 1.5);

  lines.selectAll(".sim").data(p.series).join("path")
    .attr("class", "sim")
    .attr("d", line)
    .attr("stroke", (d, i) => p.colors[i]).attr("stroke-width", 1.5);

  // axes
  const yMinor = g.append("g").attr("transform", `translate(${plotLeft},0)`)
    .call(d3.axisLeft(y).tickValues(d3.range(0, 16.001, 0.25)).tickSize(3).tickSizeOuter(0).tickFormat(""));
  yMinor.select(".domain").remove();
  const yAxis = g.append("g").attr("transform", `translate(${plotLeft},0)`)
    .call(d3.axisLeft(y).tickValues(yTickValues).tickSize(5).tickSizeOuter(0).tickPadding(15));
  yAxis.selectAll("text").attr("font-family", latinFont).attr("font-size", 15).attr("fill", "#000");
  yAxis.selectAll("line, path").attr("stroke", "#000");

  const xAxis = g.append("g").attr("transform", `translate(0,${bottom})`)
    .call(d3.axisBottom(x).tickValues(monthStarts).tickFormat((d, i) => monthLabels[i])
      .tickSize(5).tickSizeOuter(0).tickPadding(12));
  xAxis.selectAll("text").attr("font-family", latinFont).attr("font-size", 15).attr("fill", "#000");
  xAxis.selectAll("line, path").attr("stroke", "#000");

  // y-axis title
  g.append("text")
    .attr("transform", `translate(18,${(top + bottom) / 2}) rotate(-90)`)
    .attr("text-anchor", "middle").attr("dominant-baseline", "central")
    .attr("font-family", cjkFont).attr("font-size", 15).attr("fill", "#000")
    .text(yAxisTitle);

  // legend
  const legendItems = [{ name: observedName, color: grayColor, spacing: 1 }]
    .concat(p.names.map((n, i) => ({ name: n, color: p.colors[i], spacing: 0 })));
  const leg = g.append("g");
  legendItems.forEach((item, i) => {
    const ly = top + 25 + i * 26.7;
    leg.append("line").attr("x1", 107).attr("x2", 137).attr("y1", ly).attr("y2", ly)
      .attr("stroke", item.color).attr("stroke-width", 1.5);
    leg.append("text").attr("x", 143).attr("y", ly)
      .attr("dominant-baseline", "central")
      .attr("letter-spacing", item.spacing)
      .attr("font-family", cjkFont).attr("font-size", 16).attr("fill", "#000")
      .text(item.name);
  });

  // panel title
  g.append("text").attr("x", 292).attr("y", top + 80)
    .attr("dominant-baseline", "central")
    .attr("font-family", cjkFont).attr("font-weight", "bold").attr("font-size", 19).attr("fill", "#000")
    .text(p.title);
});
</script>
</body>
</html>
